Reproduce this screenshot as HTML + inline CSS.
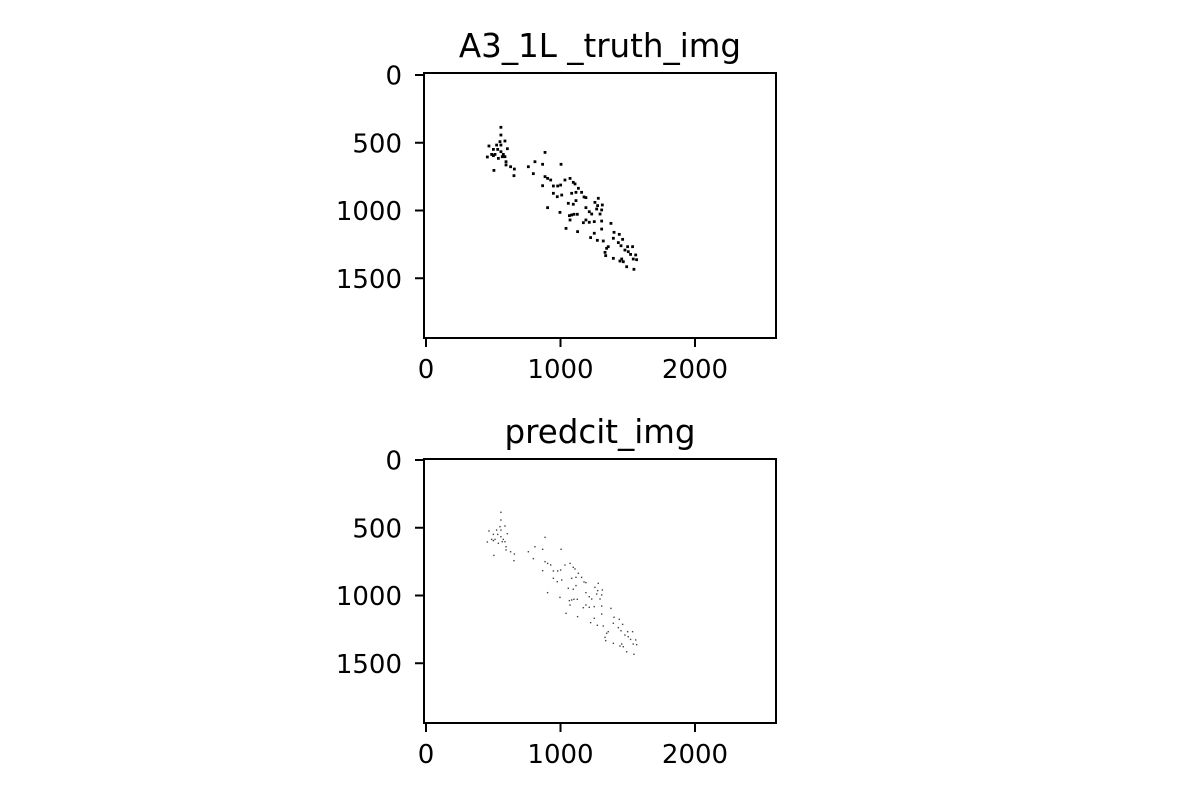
<!DOCTYPE html>
<html><head><meta charset="utf-8"><style>
html,body{margin:0;padding:0;background:#fff;}
svg text{font-family:"DejaVu Sans","Liberation Sans",sans-serif;fill:#000;}
</style></head><body>
<svg id="chart" width="1200" height="800" viewBox="0 0 1200 800" xmlns="http://www.w3.org/2000/svg">
<rect width="1200" height="800" fill="#fff"/>
</svg>
<script>
const xTicks = [0, 1000, 2000];
const yTicks = [0, 500, 1000, 1500];
const titles = ["A3_1L _truth_img", "predcit_img"];
const ptsX = [557,557,550,587,525,557,468,501,533,605,557,488,513,575,456,501,538,567,587,595,595,629,657,505,654,761,810,867,885,1004,798,885,904,927,867,947,979,1001,1033,1071,1095,1108,1133,947,976,1009,1083,1115,1157,1175,1189,904,996,1058,1095,1115,1066,1083,1100,1125,1189,1214,1232,1281,1256,1276,1311,1269,1306,1294,1071,1041,1127,1170,1189,1214,1251,1306,1375,1306,1251,1224,1274,1318,1398,1393,1437,1430,1462,1450,1499,1536,1479,1504,1521,1343,1355,1331,1336,1393,1455,1467,1442,1492,1546,1559,1541,1566];
const ptsY = [386,443,492,487,517,517,524,549,549,544,566,586,586,586,605,595,615,603,603,640,664,677,694,704,743,677,640,659,571,659,728,750,763,775,817,819,819,812,775,763,792,804,836,873,898,886,873,866,866,900,905,979,1014,947,954,927,1038,1033,1028,1028,979,1009,1026,910,940,964,959,989,996,1026,1070,1132,1156,1090,1070,1087,1082,1078,1095,1137,1168,1200,1220,1225,1161,1205,1176,1237,1213,1260,1267,1267,1292,1304,1324,1279,1267,1309,1333,1353,1358,1378,1373,1415,1434,1328,1358,1363];

const NS = "http://www.w3.org/2000/svg";
const svg = document.getElementById('chart');
function mk(tag, attrs, parent){const e=document.createElementNS(NS,tag);for(const k in attrs)e.setAttribute(k,attrs[k]);(parent||svg).appendChild(e);return e;}

const panels = [{top:73,bottom:338,y0:75,name:'truth-panel',size:2.8,color:'#000'},{top:459,bottom:723,y0:460,name:'predict-panel',size:1.4,color:'#444'}];
const left=424,right=776,x0=426,kx=0.1345,ky=0.1355;
const sx = d => x0 + d*kx;

panels.forEach((p,i)=>{
  const g = mk('g',{});
  
  
  const sy = d => p.y0 + d*ky;
  const t = mk('text',{x:600,y:p.top-16,'font-size':32.5,'text-anchor':'middle'},g);
  t.textContent = titles[i];
  
  
  ptsX.forEach((x,j)=>{
    const r = mk('rect',{x:sx(x)-p.size/2,y:sy(ptsY[j])-p.size/2,width:p.size,height:p.size,fill:p.color},g);
    
    
  });
  const fr = mk('rect',{x:left,y:p.top,width:right-left,height:p.bottom-p.top,fill:'none',stroke:'#000','stroke-width':2},g);
  
  
  xTicks.forEach(v=>{
    const x=sx(v);
    mk('line',{x1:x,x2:x,y1:p.bottom,y2:p.bottom+9,stroke:'#000','stroke-width':2},g);
    const tl = mk('text',{x:x,y:p.bottom+40,'font-size':26,'text-anchor':'middle'},g);
    tl.textContent = v;
    
    
  });
  yTicks.forEach(v=>{
    const y=sy(v);
    mk('line',{x1:left-9,x2:left,y1:y,y2:y,stroke:'#000','stroke-width':2},g);
    const tl = mk('text',{x:left-22,y:y+9.5,'font-size':26,'text-anchor':'end'},g);
    tl.textContent = v;
    
    
  });
});
</script>
</body></html>
